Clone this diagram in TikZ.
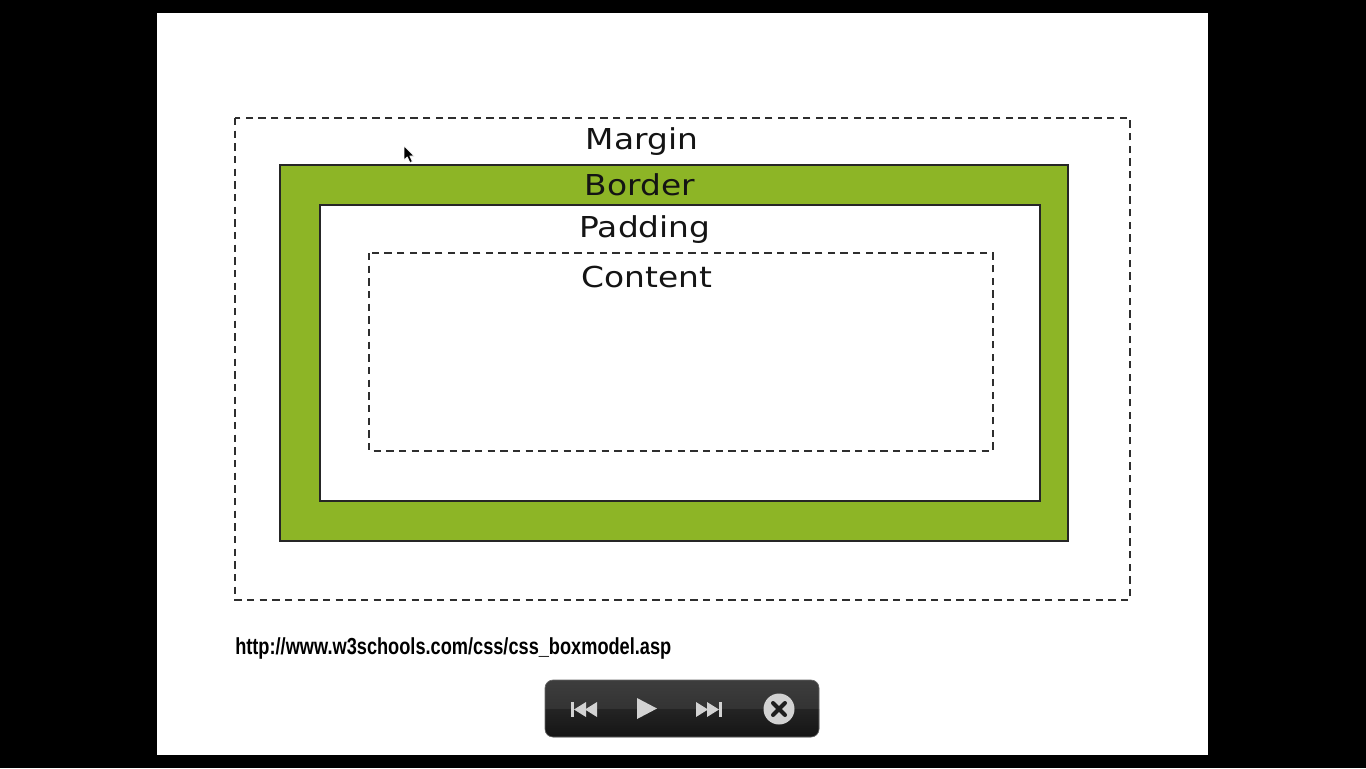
\documentclass[tikz,border=0pt]{standalone}
\usepackage{fontspec}
\setmainfont{DejaVu Sans}
\newfontfamily\urlfont{Liberation Sans}
\definecolor{bordergreen}{HTML}{8DB526}
\definecolor{inkline}{HTML}{2E2E2E}
\definecolor{icongray}{HTML}{D2D2D2}
\begin{document}
\begin{tikzpicture}[x=0.75pt,y=-0.75pt,
  dashedbox/.style={draw=inkline,line width=1.1pt,dash pattern=on 5.5pt off 4pt},
  layerlabel/.style={anchor=base,inner sep=0pt,text=black!92,font=\fontsize{21.6}{24}\selectfont},
  icon/.style={fill=icongray,draw=none}]
\useasboundingbox (0,0) rectangle (1366,768);
% screen and slide
\fill[black] (0,0) rectangle (1366,768);
\fill[white] (157,13) rectangle (1208,755);

% margin box
\draw[dashedbox] (235,118) rectangle (1130,600);
% border ring
\filldraw[fill=bordergreen,draw=black!85,line width=1pt,even odd rule]
  (280,165) rectangle (1068,541) (320,205) rectangle (1040,501);
% content box
\draw[dashedbox] (369,253) rectangle (993,451);

% labels
\node[layerlabel] (margin)  at (642,149) {\scalebox{1.14}[1]{Margin}};
\node[layerlabel] (border)  at (640,195) {\scalebox{1.14}[1]{Border}};
\node[layerlabel] (padding) at (645,237) {\scalebox{1.14}[1]{Padding}};
\node[layerlabel] (content) at (647,287) {\scalebox{1.14}[1]{Content}};

% source link
\node[anchor=base west,inner sep=0pt] (source) at (235,654)
  {\resizebox{327pt}{12.6pt}{\urlfont\bfseries http://www.w3schools.com/css/css\_boxmodel.asp}};

% mouse pointer
\filldraw[fill=black,draw=white,line width=0.4pt,line join=round]
  (404,146) -- (404,160) -- (407.3,156.8) -- (410,162.5) -- (412.3,161.5) -- (409.7,156) -- (414,156) -- cycle;

% player bar
\shade[top color=black!76,bottom color=black!84,rounded corners=6pt]
  (545,680) rectangle (819,737);
\begin{scope}
  \clip[rounded corners=6pt] (545,680) rectangle (819,737);
  \shade[top color=black!86,bottom color=black!92] (545,709) rectangle (819,737);
\end{scope}
\draw[black!60,line width=0.5pt,rounded corners=6pt] (545,680) rectangle (819,737);

% previous
\fill[icon] (571,702) rectangle (574,717);
\fill[icon] (574,709.5) -- (586,702) -- (586,717) -- cycle;
\fill[icon] (585,709.5) -- (597,702) -- (597,717) -- cycle;
% play
\fill[icon] (637,698) -- (657,708.5) -- (637,719) -- cycle;
% next
\fill[icon] (696,702) -- (708,709.5) -- (696,717) -- cycle;
\fill[icon] (707,702) -- (719,709.5) -- (707,717) -- cycle;
\fill[icon] (719,702) rectangle (722,717);
% close
\fill[icongray] (779,709) circle (15.5);
\draw[black!88,line width=3pt,line cap=round] (773,703) -- (785,715) (785,703) -- (773,715);
\end{tikzpicture}
\end{document}
